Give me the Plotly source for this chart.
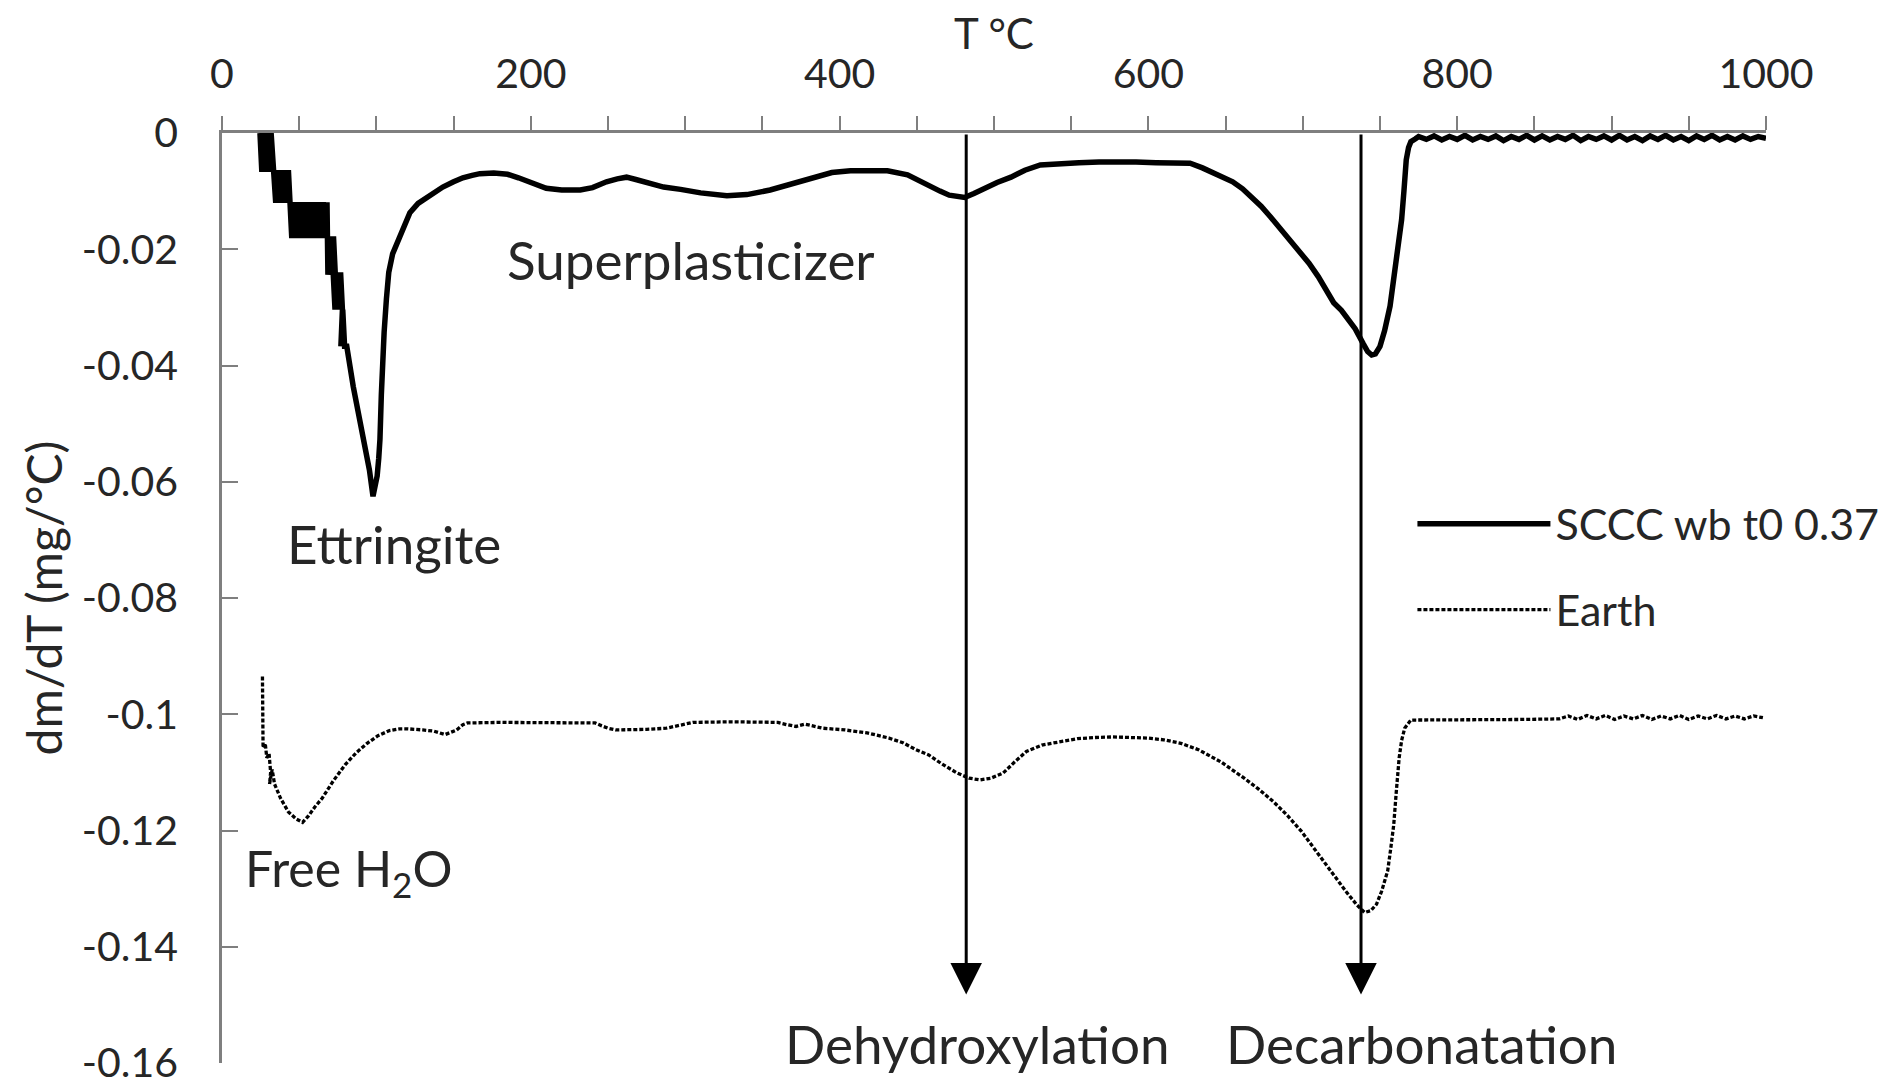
import plotly.graph_objects as go

# ---------------- data ----------------
# SCCC wb t0 0.37 (solid)
sccc_T = [
    24.6, 25.8, 27.0, 28.2, 29.4, 30.6, 31.8, 33.0,
    33.6, 34.8, 36.0, 37.2, 38.4, 39.6, 40.8, 42.0, 43.0,
    44.0, 45.2, 46.4, 47.6, 48.8, 50.0, 51.2, 52.4, 53.6, 54.8, 56.0, 57.2, 58.4, 59.6, 60.8, 62.0, 63.2, 64.4, 65.6, 66.8, 68.0,
    68.6, 69.8, 71.0, 72.2, 73.4,
    72.0, 73.2, 74.4, 75.6, 76.8, 78.0,
    77.0, 78.2, 79.4, 80.8,
    85.0, 91.5, 95.5, 97.8, 99.3, 100.5, 101.5, 102.3, 103.2, 104.0, 105.0, 106.5, 108.0, 110.5, 114.0, 117.5,
    121.7, 127.0, 132.7, 138.0, 143.0, 150.0, 156.0, 162.0, 167.0, 176.0, 185.0, 192.0, 199.5, 205.0, 210.0,
    220.0, 232.0, 240.0, 249.0, 256.0, 262.0, 268.0, 275.0, 286.0, 297.0, 310.0, 327.0, 340.0, 355.0, 370.0,
    385.0, 395.0, 407.0, 420.0, 431.0, 444.0, 456.0, 465.0, 471.0, 477.0, 481.0, 487.0, 493.5, 502.0, 511.0,
    520.0, 530.0, 542.0, 555.0, 568.0, 580.0, 592.0, 605.0, 617.0, 627.0, 635.0, 642.0, 648.0, 654.6, 661.0,
    667.0, 673.0, 679.0, 685.0, 691.7, 698.0, 704.0, 710.0, 716.0, 720.0, 725.0, 729.0, 734.0, 739.0, 742.0,
    744.6, 747.0, 750.0, 753.0, 756.5, 758.5, 760.8, 762.5, 764.0, 765.5, 767.0, 768.5, 770.0, 773.0,
    775, 780, 785, 790, 795, 800, 805, 810, 815, 820, 825, 830, 835, 840, 845, 850, 855, 860, 865, 870,
    875, 880, 885, 890, 895, 900, 905, 910, 915, 920, 925, 930, 935, 940, 945, 950, 955, 960, 965, 970,
    975, 980, 985, 990, 995, 1000,
]
sccc_V = [
    0.0, -0.0067, 0.0, -0.0067, 0.0, -0.0067, 0.0, -0.0067,
    -0.0064, -0.0120, -0.0064, -0.0120, -0.0064, -0.0120, -0.0064, -0.0120, -0.0064,
    -0.0119, -0.0181, -0.0119, -0.0181, -0.0119, -0.0181, -0.0119, -0.0181, -0.0119, -0.0181, -0.0119, -0.0181,
    -0.0119, -0.0181, -0.0119, -0.0181, -0.0119, -0.0181, -0.0119, -0.0181, -0.0119,
    -0.0244, -0.0178, -0.0244, -0.0178, -0.0244,
    -0.0240, -0.0304, -0.0240, -0.0304, -0.0240, -0.0304,
    -0.0367, -0.0304, -0.0367, -0.0367,
    -0.0436, -0.0520, -0.0580, -0.0625, -0.0610, -0.0590, -0.0560, -0.0527, -0.0450, -0.0390, -0.0343, -0.0285,
    -0.0240, -0.0208, -0.0184, -0.0160,
    -0.0137, -0.0121, -0.0110, -0.0101, -0.0093, -0.0084, -0.0077, -0.0073, -0.0070, -0.0069, -0.0071, -0.0077,
    -0.0084, -0.0090, -0.0095,
    -0.0098, -0.0098, -0.0094, -0.0084, -0.0079, -0.0076, -0.0080, -0.0086, -0.0093, -0.0097, -0.0103, -0.0108,
    -0.0106, -0.0098, -0.0086,
    -0.0074, -0.0068, -0.0065, -0.0064, -0.0065, -0.0072, -0.0089, -0.0100, -0.0107, -0.0110, -0.0111, -0.0104,
    -0.0095, -0.0085, -0.0076,
    -0.0064, -0.0055, -0.0052, -0.0051, -0.0050, -0.0049, -0.0050, -0.0051, -0.0051, -0.0052, -0.0060, -0.0069,
    -0.0076, -0.0084, -0.0096,
    -0.0110, -0.0126, -0.0144, -0.0163, -0.0184, -0.0207, -0.0224, -0.0247, -0.0275, -0.0292, -0.0305, -0.0318,
    -0.0337, -0.0362, -0.0376,
    -0.0382, -0.0380, -0.0367, -0.0340, -0.0298, -0.0260, -0.0218, -0.0180, -0.0149, -0.0100, -0.0046, -0.0025,
    -0.0015, -0.0010,
    -0.0006, -0.0011, -0.0005, -0.0012, -0.0006, -0.0011, -0.0004, -0.0012, -0.0006, -0.0011, -0.0005, -0.0013,
    -0.0006, -0.0011, -0.0004, -0.0012, -0.0005, -0.0012, -0.0006, -0.0011,
    -0.0004, -0.0013, -0.0006, -0.0011, -0.0005, -0.0012, -0.0004, -0.0012, -0.0006, -0.0013, -0.0005, -0.0011,
    -0.0004, -0.0012, -0.0006, -0.0013, -0.0005, -0.0011, -0.0004, -0.0012,
    -0.0006, -0.0012, -0.0005, -0.0011, -0.0006, -0.0009,
]

# Earth (dotted)
earth_T = [
    26.2, 26.6, 28.0, 29.0, 30.5, 31.5, 30.8, 32.5, 34.0, 38.0, 43.0, 48.0, 52.2, 56.0, 60.0, 65.0, 72.0,
    79.7, 87.0, 94.0, 101.0, 108.5, 115.0, 120.0, 130.0, 137.0, 144.5, 148.0, 152.0, 156.0, 159.0, 180.0,
    201.0, 220.0, 241.6, 246.0, 250.0, 255.0, 264.7, 275.0, 287.8, 296.0, 305.0, 330.0, 360.0, 366.0,
    371.8, 377.6, 383.0, 389.0, 403.5, 417.8, 432.0, 441.0, 449.5, 457.7, 466.0, 476.0, 484.0, 491.0,
    498.0, 506.0, 513.0, 521.0, 531.0, 543.0, 554.0, 565.5, 577.0, 588.0, 600.0, 610.0, 621.0, 632.4,
    647.0, 662.0, 671.0, 680.8, 690.0, 699.0, 708.0, 718.0, 728.0, 735.0, 740.0, 744.0, 747.7, 751.0,
    755.0, 757.0, 758.9, 760.5, 762.4, 764.0, 766.0, 770.0, 790.0, 811.0, 840.0, 866.0,
    872, 878, 884, 890, 896, 902, 908, 914, 920, 926, 932, 938, 944, 950, 956, 962, 968, 974, 980, 986,
    992, 998,
]
earth_V = [
    -0.0935, -0.1058, -0.1050, -0.1075, -0.1068, -0.1100, -0.1120, -0.1095, -0.1120, -0.1145, -0.1168,
    -0.1180, -0.1186, -0.1175, -0.1160, -0.1144, -0.1115,
    -0.1087, -0.1066, -0.1050, -0.1037, -0.1028, -0.1025, -0.1025, -0.1027, -0.1029, -0.1035, -0.1031,
    -0.1027, -0.1018, -0.1015, -0.1014,
    -0.1014, -0.1014, -0.1015, -0.1020, -0.1024, -0.1027, -0.1027, -0.1026, -0.1024, -0.1019, -0.1014,
    -0.1013, -0.1014, -0.1018,
    -0.1021, -0.1017, -0.1021, -0.1024, -0.1027, -0.1032, -0.1041, -0.1049, -0.1061, -0.1070, -0.1085,
    -0.1101, -0.1110, -0.1113,
    -0.1110, -0.1101, -0.1083, -0.1064, -0.1053, -0.1047, -0.1042, -0.1040, -0.1039, -0.1040, -0.1041,
    -0.1044, -0.1050, -0.1061,
    -0.1082, -0.1110, -0.1128, -0.1150, -0.1174, -0.1201, -0.1233, -0.1270, -0.1305, -0.1328, -0.1341,
    -0.1338, -0.1327, -0.1305,
    -0.1269, -0.1230, -0.1190, -0.1135, -0.1075, -0.1045, -0.1024, -0.1010, -0.1010, -0.1010, -0.1009,
    -0.1008,
    -0.1003, -0.1009, -0.1002, -0.1008, -0.1002, -0.1009, -0.1003, -0.1008, -0.1002, -0.1009, -0.1003,
    -0.1008, -0.1002, -0.1009, -0.1003, -0.1008, -0.1002, -0.1008, -0.1003, -0.1008,
    -0.1003, -0.1006,
]

series_names = ["SCCC wb t0 0.37", "Earth"]

x_major_ticks = [0, 200, 400, 600, 800, 1000]
y_tick_vals = [0, -0.02, -0.04, -0.06, -0.08, -0.1, -0.12, -0.14, -0.16]
y_tick_text = ["0", "-0.02", "-0.04", "-0.06", "-0.08", "-0.1", "-0.12", "-0.14", "-0.16"]

# event arrows (temperature, arrow tip value)
event_T = [482.0, 737.7]
event_tip = [-0.1482, -0.1482]
event_labels = ["Dehydroxylation", "Decarbonatation"]
event_label_T = [489.0, 776.6]
event_label_V = [-0.1566, -0.1566]

# peak labels
peak_labels = ["Superplasticizer", "Ettringite", "Free H<sub>2</sub>O"]
peak_T = [303.6, 111.4, 82.0]
peak_V = [-0.0217, -0.0707, -0.1270]

FONT = "Lato, 'Open Sans', sans-serif"
AXIS_COLOR = "#7f7f7f"
TEXT_COLOR = "#262626"

fig = go.Figure()
fig.add_trace(go.Scatter(
    x=sccc_T, y=sccc_V, mode="lines", name=series_names[0], legendgroup="a",
    line=dict(color="black", width=5.5),
))
fig.add_trace(go.Scatter(
    x=earth_T, y=earth_V, mode="lines", name=series_names[1], legendgroup="b",
    line=dict(color="black", width=3.3, dash="4px,2px"),
))

annotations = []
for t, tip in zip(event_T, event_tip):
    annotations.append(dict(
        x=t, y=tip, ax=t, ay=0, xref="x", yref="y", axref="x", ayref="y",
        text="", showarrow=True, arrowhead=2, arrowsize=2.1, arrowwidth=3,
        arrowcolor="black", standoff=0, startstandoff=0,
    ))
for lab, t, v in zip(event_labels, event_label_T, event_label_V):
    annotations.append(dict(x=t, y=v, xref="x", yref="y", text=lab, showarrow=False,
                            font=dict(family=FONT, size=53, color=TEXT_COLOR)))
for lab, t, v in zip(peak_labels, peak_T, peak_V):
    size = 50 if "H<sub>" in lab else 53
    annotations.append(dict(x=t, y=v, xref="x", yref="y", text=lab, showarrow=False,
                            font=dict(family=FONT, size=size, color=TEXT_COLOR)))

# the page body has an 8px default margin, so the figure is 8px smaller
fig.update_layout(
    width=1892, height=1078,
    margin=dict(l=214, r=134, t=125, b=23, autoexpand=False),
    paper_bgcolor="white", plot_bgcolor="white",
    font=dict(family=FONT, color=TEXT_COLOR, size=41),
    showlegend=True,
    legend=dict(
        x=0.771, y=0.617, xanchor="left", yanchor="top",
        bgcolor="rgba(0,0,0,0)", font=dict(family=FONT, size=43, color=TEXT_COLOR),
        itemwidth=133, tracegroupgap=27,
    ),
    annotations=annotations,
    xaxis=dict(
        side="top", range=[0, 1000], tickvals=x_major_ticks,
        ticks="outside", ticklen=14, tickwidth=2, tickcolor=AXIS_COLOR,
        minor=dict(dtick=50, ticks="outside", ticklen=14, tickwidth=2, tickcolor=AXIS_COLOR),
        showline=True, linecolor=AXIS_COLOR, linewidth=2.5,
        showgrid=False, zeroline=False,
        tickfont=dict(family=FONT, size=41, color=TEXT_COLOR),
        ticklabelstandoff=12, ticklabeloverflow="allow",
        title=dict(text="T °C", font=dict(family=FONT, size=42, color=TEXT_COLOR), standoff=12),
    ),
    yaxis=dict(
        range=[-0.16, 0], tickvals=y_tick_vals, ticktext=y_tick_text,
        ticks="inside", ticklen=16, tickwidth=2, tickcolor=AXIS_COLOR,
        showline=True, linecolor=AXIS_COLOR, linewidth=2.5,
        showgrid=False, zeroline=False,
        tickfont=dict(family=FONT, size=41, color=TEXT_COLOR),
        ticklabelstandoff=33, ticklabeloverflow="allow",
        title=dict(text="dm/dT (mg/°C)", font=dict(family=FONT, size=48, color=TEXT_COLOR), standoff=4),
    ),
)

fig.write_html("out.html")
